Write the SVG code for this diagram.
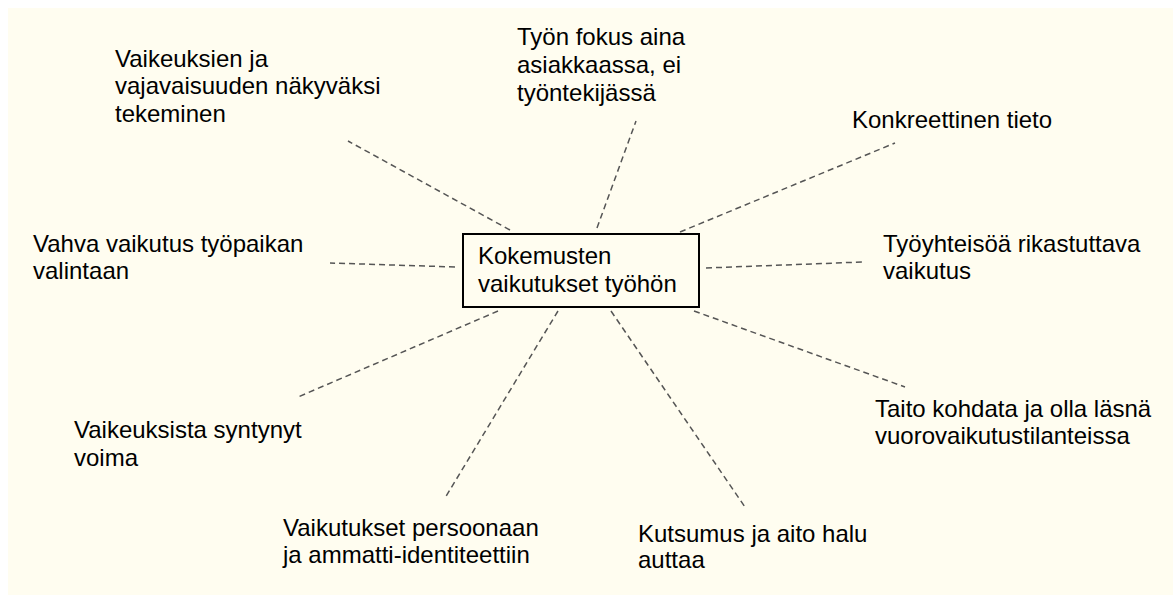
<svg xmlns="http://www.w3.org/2000/svg" width="1173" height="595" viewBox="0 0 1173 595">
<style>
  .t { font-family: "Liberation Sans", Arial, sans-serif; font-size: 24px; fill: #000; }
  .c { stroke: #555; stroke-width: 1.5; stroke-dasharray: 6 4; fill: none; }
  .box { fill: #FFFDF0; stroke: #000; stroke-width: 2; }
</style>
<rect x="0" y="0" width="1173" height="595" fill="#fff"/>
<rect x="8" y="8" width="1165" height="587" fill="#FFFDF0"/>
<g id="connectors">
  <line class="c" x1="510" y1="230" x2="348" y2="141"/>
  <line class="c" x1="597" y1="228" x2="636" y2="121"/>
  <line class="c" x1="680" y1="232" x2="895" y2="143"/>
  <line class="c" x1="455" y1="267" x2="330" y2="263"/>
  <line class="c" x1="706" y1="268" x2="862" y2="262"/>
  <line class="c" x1="498" y1="311" x2="298" y2="397"/>
  <line class="c" x1="558" y1="311" x2="445" y2="498"/>
  <line class="c" x1="611" y1="311" x2="745" y2="507"/>
  <line class="c" x1="694" y1="311" x2="905" y2="387"/>
</g>
<g id="center">
  <rect class="box" x="463" y="234" width="236" height="73"/>
  <text class="t" x="478" y="264">Kokemusten</text>
  <text class="t" x="478" y="292">vaikutukset työhön</text>
</g>
<g id="n1">
  <text class="t" x="115" y="66.7">Vaikeuksien ja</text>
  <text class="t" x="115" y="94.3">vajavaisuuden näkyväksi</text>
  <text class="t" x="115" y="122">tekeminen</text>
</g>
<g id="n2">
  <text class="t" x="517" y="45">Työn fokus aina</text>
  <text class="t" x="517" y="73">asiakkaassa, ei</text>
  <text class="t" x="517" y="100.7">työntekijässä</text>
</g>
<g id="n3">
  <text class="t" x="852" y="128">Konkreettinen tieto</text>
</g>
<g id="n4">
  <text class="t" x="33" y="251.7">Vahva vaikutus työpaikan</text>
  <text class="t" x="33" y="278.5">valintaan</text>
</g>
<g id="n5">
  <text class="t" x="883" y="251.7">Työyhteisöä rikastuttava</text>
  <text class="t" x="883" y="279.3">vaikutus</text>
</g>
<g id="n6">
  <text class="t" x="875" y="416.7">Taito kohdata ja olla läsnä</text>
  <text class="t" x="875" y="444.3">vuorovaikutustilanteissa</text>
</g>
<g id="n7">
  <text class="t" x="74" y="438.3">Vaikeuksista syntynyt</text>
  <text class="t" x="74" y="465.5">voima</text>
</g>
<g id="n8">
  <text class="t" x="283" y="536">Vaikutukset persoonaan</text>
  <text class="t" x="283" y="563.3">ja ammatti-identiteettiin</text>
</g>
<g id="n9">
  <text class="t" x="638" y="541.7">Kutsumus ja aito halu</text>
  <text class="t" x="638" y="568.3">auttaa</text>
</g>
</svg>
